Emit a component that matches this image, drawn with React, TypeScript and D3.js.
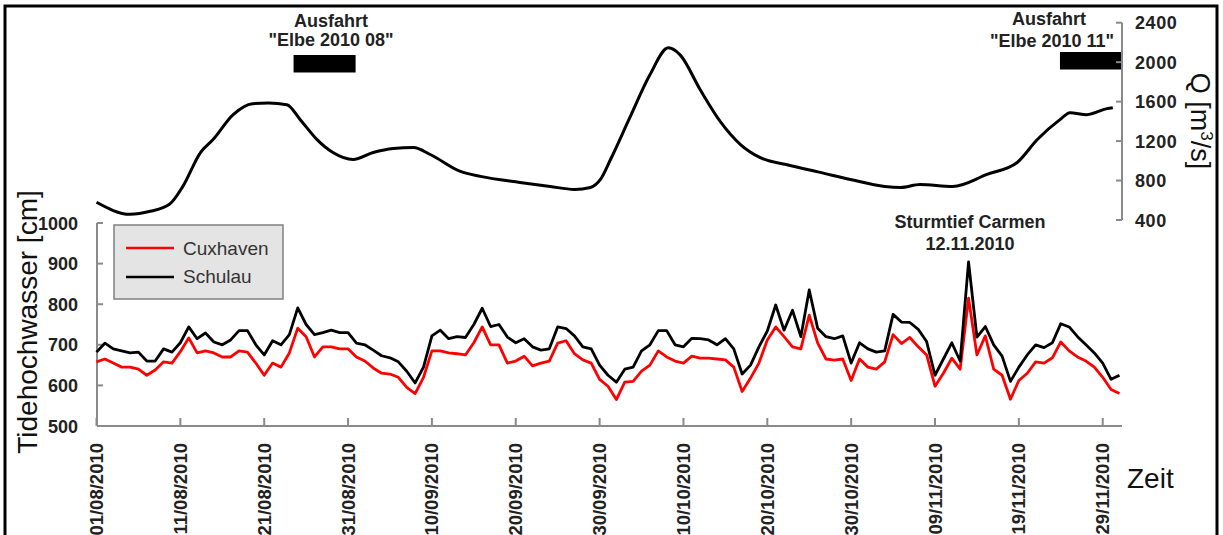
import React from 'react'
import * as d3 from 'd3'

// daily high water levels [cm], from 01/08/2010
const cuxhaven = [
  658, 665, 655, 645, 645, 640, 625, 638, 658, 655,
  683, 717, 680, 685, 680, 670, 670, 685, 682, 655,
  625, 655, 645, 680, 741, 720, 670, 695, 695, 690,
  690, 670, 660, 643, 630, 628, 620, 595, 580, 620,
  685, 685, 680, 678, 675, 705, 744, 700, 700, 655,
  660, 672, 648, 655, 660, 704, 710, 678, 663, 655,
  615, 598, 565, 608, 610, 635, 650, 685, 670, 660,
  655, 672, 667, 667, 665, 663, 645, 585, 618, 655,
  712, 744, 720, 695, 690, 773, 705, 665, 662, 665,
  612, 665, 645, 640, 658, 725, 703, 718, 695, 675,
  598, 630, 667, 640, 815, 675, 722, 640, 625, 566,
  612, 630, 658, 655, 668, 707, 685, 670, 660, 645,
  620, 590, 580,
]
const schulau = [
  682, 704, 690, 685, 680, 682, 660, 660, 690, 682,
  705, 744, 715, 729, 707, 700, 712, 735, 735, 700,
  675, 710, 700, 725, 791, 750, 725, 730, 736, 730,
  730, 704, 700, 687, 673, 668, 658, 635, 606, 645,
  722, 736, 715, 720, 718, 750, 790, 745, 750, 719,
  705, 715, 695, 687, 690, 744, 740, 722, 695, 690,
  650, 625, 608, 640, 645, 685, 700, 735, 735, 700,
  695, 716, 715, 712, 700, 715, 690, 628, 650, 695,
  734, 798, 736, 785, 720, 835, 741, 720, 715, 722,
  655, 705, 690, 682, 685, 775, 756, 755, 738, 708,
  625, 665, 705, 660, 904, 719, 745, 700, 672, 610,
  645, 675, 700, 693, 705, 752, 744, 720, 700, 680,
  655, 615, 625,
]

// discharge Q [m3/s], day offsets from 01/08/2010
const qDay = [0, 4, 6.4, 8.7, 10.3, 12.4, 13.9, 16.3, 18.6, 20.5, 22.7, 24.3, 26.3, 28.2, 30.6, 33, 35.4, 37.8,
  39.8, 43.4, 45.8, 50.5, 54.1, 57, 58.9, 60.1, 61.3, 63.6, 66, 68.2, 69.6, 72, 74.4, 76.8, 79.1, 82.7, 86.3,
  89.9, 94, 95.9, 98.2, 102.1, 106.2, 109.8, 112.2, 114.9, 116.1, 118.1, 120.5, 121.2]
const qFlow = [580, 458, 488, 559, 741, 1084, 1215, 1468, 1579, 1585, 1569, 1417, 1215, 1084, 1013, 1084, 1125, 1135,
  1064, 892, 842, 781, 740, 710, 730, 811, 1013, 1437, 1872, 2145, 2074, 1720, 1397, 1165, 1034, 953, 883,
  811, 740, 730, 760, 740, 862, 983, 1216, 1417, 1488, 1468, 1529, 1539]

const dateTicks = ['01/08/2010', '11/08/2010', '21/08/2010', '31/08/2010', '10/09/2010', '20/09/2010',
  '30/09/2010', '10/10/2010', '20/10/2010', '30/10/2010', '09/11/2010', '19/11/2010', '29/11/2010']
const tideTicks = [500, 600, 700, 800, 900, 1000]
const qTicks = [400, 800, 1200, 1600, 2000, 2400]

// cruises (day offsets)
const cruiseFrom = [23.5, 114.9]
const cruiseTo = [30.9, 122.3]

const start = Date.UTC(2010, 7, 1)
const dayDate = (d: number) => new Date(start + d * 864e5)
const parse = d3.utcParse('%d/%m/%Y')

const font = 'Liberation Sans, Arial, sans-serif'

const App = () => {
  const W = 1223
  const H = 535
  const x = d3.scaleUtc().domain([dayDate(0), dayDate(122.3)]).range([96.5, 1122])
  const yT = d3.scaleLinear().domain([500, 1000]).range([426, 223])
  const yQ = d3.scaleLinear().domain([400, 2400]).range([220, 22.7])

  const tideLine = d3.line<number>()
    .x((_, i) => x(dayDate(i)))
    .y(v => yT(v))
  const qLine = d3.line<number>()
    .x((_, i) => x(dayDate(qDay[i])))
    .y(v => yQ(v))
    .curve(d3.curveMonotoneX)

  const axisCol = '#8a8a8a'
  const xR = x(dayDate(122.3))

  return (
    <svg width={W} height={H} style={{ position: 'absolute', left: 0, top: 0, background: '#fff' }}
      fontFamily={font}>
      <rect x={5} y={6} width={1212} height={600} fill="#fff" stroke="#000" strokeWidth={3} />

      {/* cruise annotations */}
      {cruiseFrom.map((f, i) => (
        <rect key={i} x={x(dayDate(f))} width={x(dayDate(cruiseTo[i])) - x(dayDate(f))}
          y={i === 0 ? 55 : 52} height={17.5} fill="#000" />
      ))}
      <g fontWeight="bold" fontSize={18} textAnchor="middle" fill="#222">
        <text x={331} y={27}>Ausfahrt</text>
        <text x={331} y={46}>"Elbe 2010 08"</text>
        <text x={1049} y={25}>Ausfahrt</text>
        <text x={1052} y={47}>"Elbe 2010 11"</text>
        <text x={970} y={228}>Sturmtief Carmen</text>
        <text x={970} y={250}>12.11.2010</text>
      </g>

      {/* right axis Q */}
      <line x1={xR} x2={xR} y1={yQ(2400)} y2={yQ(400)} stroke={axisCol} strokeWidth={2} />
      {qTicks.map(t => (
        <g key={t}>
          <line x1={xR - 6} x2={xR} y1={yQ(t)} y2={yQ(t)} stroke={axisCol} strokeWidth={2} />
          <text x={1135} y={yQ(t) + 6.5} fontSize={18} fontWeight="bold" fill="#222" letterSpacing={0.6}>{t}</text>
        </g>
      ))}
      <text transform={`translate(1191,121) rotate(90)`} textAnchor="middle" fontSize={27} fill="#111">
        Q [m<tspan fontSize={17} dy={-10}>3</tspan><tspan dy={10}>/s]</tspan>
      </text>

      {/* Q line */}
      <path d={qLine(qFlow) || ''} fill="none" stroke="#000" strokeWidth={3} strokeLinejoin="round" />

      {/* left axis */}
      <line x1={97} x2={97} y1={yT(1000)} y2={yT(500)} stroke={axisCol} strokeWidth={2} />
      {tideTicks.map(t => (
        <g key={t}>
          <line x1={97} x2={103} y1={yT(t)} y2={yT(t)} stroke={axisCol} strokeWidth={2} />
          <text x={78} y={yT(t) + 6.5} textAnchor="end" fontSize={18} fontWeight="bold" fill="#222">{t}</text>
        </g>
      ))}
      <text transform={`translate(37,322) rotate(-90)`} textAnchor="middle" fontSize={28} fill="#111">
        Tidehochwasser [cm]
      </text>

      {/* bottom axis */}
      <line x1={97} x2={xR} y1={yT(500)} y2={yT(500)} stroke={axisCol} strokeWidth={2} />
      {dateTicks.map(s => {
        const tx = x(parse(s) as Date)
        return (
          <g key={s}>
            <line x1={tx} x2={tx} y1={yT(500)} y2={yT(500) - 8} stroke={axisCol} strokeWidth={2} />
            <text transform={`translate(${tx + 6.5},443) rotate(-90)`} textAnchor="end" fontSize={18.5}
              fontWeight="bold" fill="#222">{s}</text>
          </g>
        )
      })}
      <text x={1127} y={488} fontSize={28} fill="#111">Zeit</text>

      {/* tide lines */}
      <path d={tideLine(cuxhaven) || ''} fill="none" stroke="#ff0000" strokeWidth={2.8} strokeLinejoin="round" />
      <path d={tideLine(schulau) || ''} fill="none" stroke="#000" strokeWidth={2.8} strokeLinejoin="round" />

      {/* legend */}
      <rect x={114} y={225} width={169} height={74} fill="#e4e4e4" stroke="#808080" strokeWidth={1.5} />
      <line x1={126} x2={174} y1={248} y2={248} stroke="#ff0000" strokeWidth={2.5} />
      <line x1={126} x2={174} y1={277} y2={277} stroke="#000" strokeWidth={2.5} />
      <text x={183} y={255} fontSize={19} fill="#333">Cuxhaven</text>
      <text x={183} y={283} fontSize={19} fill="#333">Schulau</text>
    </svg>
  )
}

export default App
